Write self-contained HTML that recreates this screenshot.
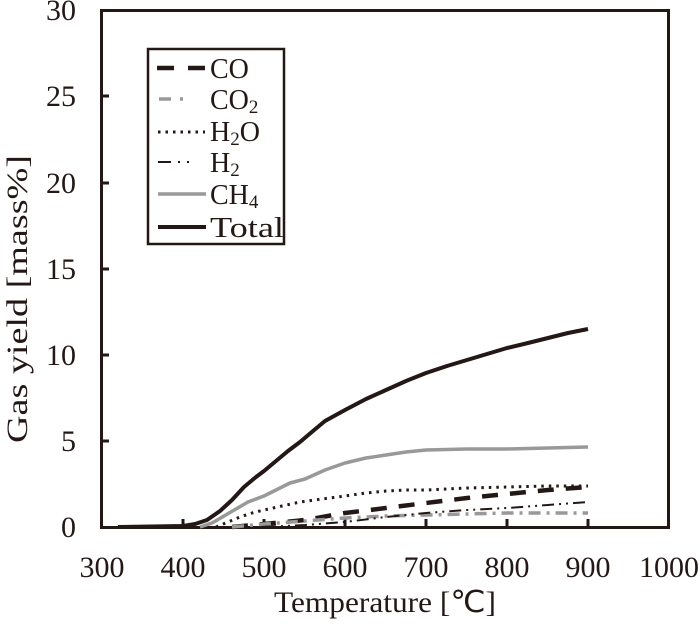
<!DOCTYPE html><html><head><style>body{margin:0;background:#fff}</style></head><body>
<svg width="700" height="619" xmlns="http://www.w3.org/2000/svg" font-family="Liberation Serif, serif" fill="#231815">
<rect x="101.5" y="10.5" width="567" height="517" fill="none" stroke="#231815" stroke-width="3"/>
<g stroke="#231815" stroke-width="3">
<line x1="183" y1="527" x2="183" y2="519"/><line x1="264" y1="527" x2="264" y2="519"/><line x1="345" y1="527" x2="345" y2="519"/><line x1="426" y1="527" x2="426" y2="519"/><line x1="507" y1="527" x2="507" y2="519"/><line x1="588" y1="527" x2="588" y2="519"/>
<line x1="101" y1="441" x2="109" y2="441"/><line x1="101" y1="355" x2="109" y2="355"/><line x1="101" y1="269" x2="109" y2="269"/><line x1="101" y1="183" x2="109" y2="183"/><line x1="101" y1="96" x2="109" y2="96"/>
</g>
<g font-size="30" text-anchor="end">
<text x="76" y="537">0</text><text x="76" y="451">5</text><text x="76" y="365">10</text><text x="76" y="279">15</text><text x="76" y="193">20</text><text x="76" y="106">25</text><text x="76" y="20">30</text>
</g>
<g font-size="30" text-anchor="middle">
<text x="102" y="577">300</text><text x="183" y="577">400</text><text x="264" y="577">500</text><text x="345" y="577">600</text><text x="426" y="577">700</text><text x="507" y="577">800</text><text x="588" y="577">900</text><text x="669" y="577">1000</text>
<text x="385" y="612" textLength="222" lengthAdjust="spacingAndGlyphs">Temperature [℃]</text>
<text transform="translate(27,299) rotate(-90)" textLength="288" lengthAdjust="spacingAndGlyphs">Gas yield [mass%]</text>
</g>
<g fill="none" stroke-linejoin="round">
<polyline stroke="#231815" stroke-width="4" points="118,527 183,526 195,524 207,520 220,511 232,500 244,487 256,477 264,471 276,461 288,451 300,442 313,431 325,421 345,410 366,399 386,390 406,381 426,373 447,366 467,360 487,354 507,348 528,343 548,338 568,333 588,329"/>
<polyline stroke="#999" stroke-width="3.5" points="200,527 212,523 224,516 236,509 248,502 264,496 276,490 290,483 305,479 325,470 345,463 366,458 386,455 406,452 426,450 467,449 507,449 548,448 588,447"/>
<polyline stroke="#231815" stroke-width="3" stroke-dasharray="2.5 5" points="216,527 228,522 240,517 252,513 264,510 282,506 300,502 322,499 345,496 366,493 386,491 406,490 426,490 467,488 507,487 548,486 588,486"/>
<polyline stroke="#231815" stroke-width="4.5" stroke-dasharray="16 12" points="232,527 264,524 305,520 345,513 386,508 426,503 467,498 507,494 548,490 588,487"/>
<polyline stroke="#999" stroke-width="3.5" stroke-dasharray="12 6 3 6" points="232,527 264,524 305,521 345,518 386,516 426,515 467,514 507,513 588,513"/>
<polyline stroke="#231815" stroke-width="2" stroke-dasharray="12 5 2 5 2 5" points="264,527 305,525 345,522 386,517 426,513 467,510 507,508 548,505 588,502"/>
</g>
<rect x="148" y="49" width="136" height="195" fill="#fff" stroke="#231815" stroke-width="2.5"/>
<g fill="none">
<line x1="157" y1="68" x2="206" y2="68" stroke="#231815" stroke-width="4.5" stroke-dasharray="17 14"/>
<line x1="159" y1="99" x2="192" y2="99" stroke="#999" stroke-width="3.5" stroke-dasharray="12 9 3 20"/>
<line x1="158" y1="132" x2="205" y2="132" stroke="#231815" stroke-width="3" stroke-dasharray="2.5 5"/>
<line x1="158" y1="162" x2="202" y2="162" stroke="#231815" stroke-width="2" stroke-dasharray="13 7 2 7 2 20"/>
<line x1="158" y1="194" x2="206" y2="194" stroke="#999" stroke-width="3.5"/>
<line x1="158" y1="227" x2="206" y2="227" stroke="#231815" stroke-width="4"/>
</g>
<g font-size="28">
<text x="210" y="78">CO</text>
<text x="210" y="109">CO<tspan font-size="19" dy="4">2</tspan></text>
<text x="210" y="141">H<tspan font-size="19" dy="4">2</tspan><tspan dy="-4">O</tspan></text>
<text x="210" y="172">H<tspan font-size="19" dy="4">2</tspan></text>
<text x="210" y="204">CH<tspan font-size="19" dy="4">4</tspan></text>
<text x="210" y="237" textLength="74" lengthAdjust="spacingAndGlyphs">Total</text>
</g>
</svg></body></html>
